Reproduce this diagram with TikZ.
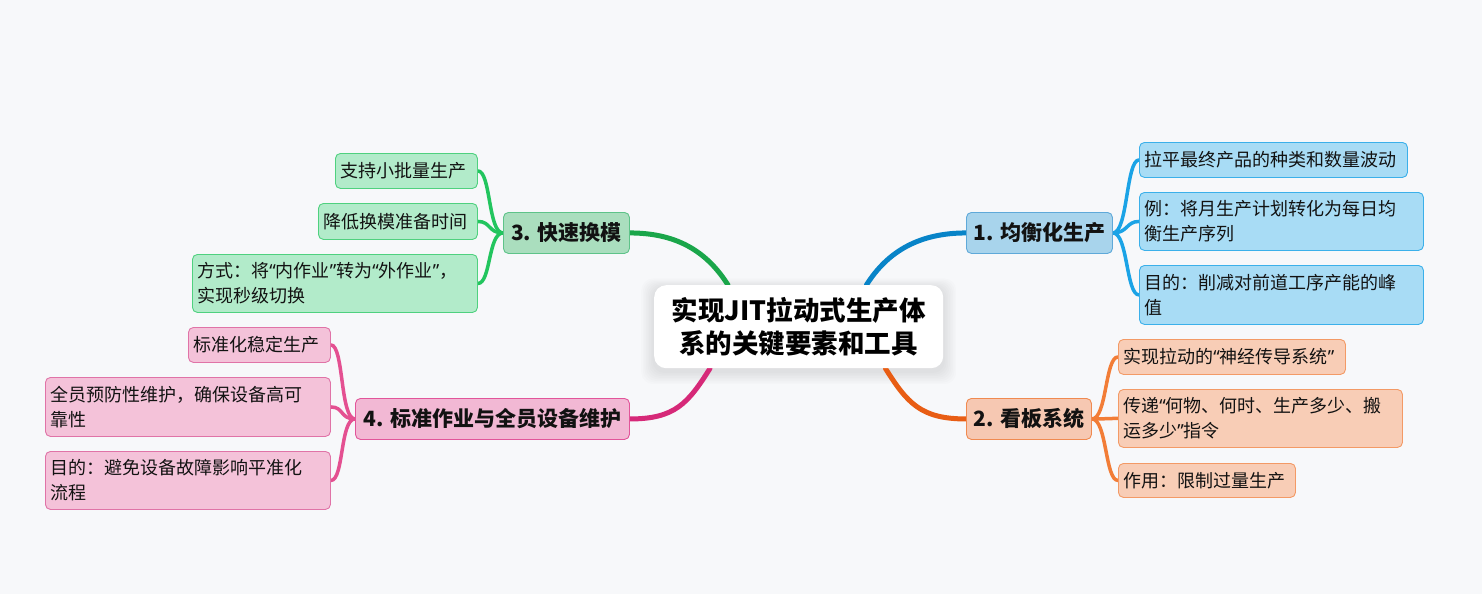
\documentclass[tikz,border=0pt]{standalone}
\usepackage{fontspec}
\setmainfont{Noto Sans CJK SC}
\newfontfamily\qfont{Noto Sans}
\newcommand\qo{{\qfont “}}
\newcommand\qc{{\qfont ”}}
\usetikzlibrary{calc}
\definecolor{bgc}{RGB}{247,248,250}
\definecolor{trB}{RGB}{8,132,200}
\definecolor{lnB}{RGB}{27,163,230}
\definecolor{brBf}{RGB}{168,212,236}
\definecolor{brBd}{RGB}{95,169,217}
\definecolor{lfBf}{RGB}{168,220,245}
\definecolor{lfBd}{RGB}{59,176,234}
\definecolor{trG}{RGB}{26,166,74}
\definecolor{lnG}{RGB}{34,197,94}
\definecolor{brGf}{RGB}{170,222,190}
\definecolor{brGd}{RGB}{94,195,137}
\definecolor{lfGf}{RGB}{178,235,202}
\definecolor{lfGd}{RGB}{79,209,127}
\definecolor{trP}{RGB}{214,41,120}
\definecolor{lnP}{RGB}{228,80,145}
\definecolor{brPf}{RGB}{242,184,212}
\definecolor{brPd}{RGB}{226,85,154}
\definecolor{lfPf}{RGB}{244,194,217}
\definecolor{lfPd}{RGB}{224,115,167}
\definecolor{trO}{RGB}{232,93,20}
\definecolor{lnO}{RGB}{242,125,55}
\definecolor{brOf}{RGB}{246,200,178}
\definecolor{brOd}{RGB}{240,138,80}
\definecolor{lfOf}{RGB}{248,205,182}
\definecolor{lfOd}{RGB}{243,154,102}
\pgfdeclarelayer{bg}
\pgfsetlayers{bg,main}
\tikzset{
  boxbase/.style={rounded corners=5pt, line width=0.9pt, anchor=north west, inner xsep=5pt, inner ysep=0pt, text=black!93},
  branchbox/.style={boxbase, font=\fontsize{21}{26}\selectfont\bfseries, align=center},
  leafbox/.style={boxbase, font=\fontsize{18}{25}\selectfont, align=left},
  trunk/.style={line width=5pt, line cap=round},
  twig/.style={line width=3.5pt, line cap=round},
}
\begin{document}
\begin{tikzpicture}[x=1pt,y=-1pt]
\useasboundingbox (0,0) rectangle (1482,594);
% root
\node[anchor=north west, fill=white, rounded corners=12pt, minimum width=289pt, minimum height=83pt, inner sep=0pt, align=center, font=\fontsize{26.5}{33.5}\selectfont\bfseries] (root) at (654,285) {实现JIT拉动式生产体\\系的关键要素和工具};
% branches
\node[branchbox, fill=brBf, draw=brBd, minimum width=146pt, minimum height=41pt] (b1) at (966,212) {1. 均衡化生产};
\node[branchbox, fill=brOf, draw=brOd, minimum width=125pt, minimum height=41pt] (b2) at (966,398) {2. 看板系统};
\node[branchbox, fill=brGf, draw=brGd, minimum width=126pt, minimum height=41pt] (b3) at (503,212) {3. 快速换模};
\node[branchbox, fill=brPf, draw=brPd, minimum width=274pt, minimum height=41pt] (b4) at (355,398) {4. 标准作业与全员设备维护};
% leaves 1
\node[leafbox, fill=lfBf, draw=lfBd, text width=258pt, minimum height=35pt] (l11) at (1139,142) {拉平最终产品的种类和数量波动};
\node[leafbox, fill=lfBf, draw=lfBd, text width=274pt, minimum height=58pt] (l12) at (1139,192) {例：将月生产计划转化为每日均\\衡生产序列};
\node[leafbox, fill=lfBf, draw=lfBd, text width=274pt, minimum height=59pt] (l13) at (1139,265) {目的：削减对前道工序产能的峰\\值};
% leaves 2
\node[leafbox, fill=lfOf, draw=lfOd, text width=217pt, minimum height=35pt] (l21) at (1118,339) {实现拉动的\qo 神经传导系统\qc};
\node[leafbox, fill=lfOf, draw=lfOd, text width=274pt, minimum height=58pt] (l22) at (1118,389) {传递\qo 何物、何时、生产多少、搬\\运多少\qc 指令};
\node[leafbox, fill=lfOf, draw=lfOd, text width=167pt, minimum height=34pt] (l23) at (1118,463) {作用：限制过量生产};
% leaves 3
\node[leafbox, fill=lfGf, draw=lfGd, text width=132pt, minimum height=35pt] (l31) at (335,153) {支持小批量生产};
\node[leafbox, fill=lfGf, draw=lfGd, text width=149pt, minimum height=36pt] (l32) at (318,203) {降低换模准备时间};
\node[leafbox, fill=lfGf, draw=lfGd, text width=275pt, minimum height=58pt] (l33) at (192,254) {方式：将\qo 内作业\qc 转为\qo 外作业\qc ，\\实现秒级切换};
% leaves 4
\node[leafbox, fill=lfPf, draw=lfPd, text width=132pt, minimum height=35pt] (l41) at (188,327) {标准化稳定生产};
\node[leafbox, fill=lfPf, draw=lfPd, text width=275pt, minimum height=59pt] (l42) at (45,377) {全员预防性维护，确保设备高可\\靠性};
\node[leafbox, fill=lfPf, draw=lfPd, text width=275pt, minimum height=58pt] (l43) at (45,451) {目的：避免设备故障影响平准化\\流程};
\begin{pgfonlayer}{bg}
  \fill[bgc] (0,0) rectangle (1482,594);
  % root shadow
  \foreach \i in {1,...,8}{
    \fill[black, opacity=0.012, rounded corners=12pt]
      ($(root.north west)+(-\i*1.6,-\i*1.2+3)$) rectangle ($(root.south east)+(\i*1.6,\i*1.6+3)$);
  }
  % trunks
  \draw[trunk, trB] ([xshift=-77pt]root.north east) .. controls +(22,-35) and +(-45,0) .. (b1.west);
  \draw[trunk, trG] ([xshift=74pt]root.north west) .. controls +(-22,-35) and +(45,0) .. (b3.east);
  \draw[trunk, trP] ([xshift=56pt]root.south west) .. controls +(-22,35) and +(45,0) .. (b4.east);
  \draw[trunk, trO] ([xshift=-58pt]root.south east) .. controls +(22,35) and +(-45,0) .. (b2.west);
  % twigs
  \foreach \l in {l11,l12,l13}{\draw[twig, lnB] (b1.east) .. controls +(15,0) and +(-13,0) .. (\l.west);}
  \foreach \l in {l21,l22,l23}{\draw[twig, lnO] (b2.east) .. controls +(15,0) and +(-13,0) .. (\l.west);}
  \foreach \l in {l31,l32,l33}{\draw[twig, lnG] (b3.west) .. controls +(-15,0) and +(13,0) .. (\l.east);}
  \foreach \l in {l41,l42,l43}{\draw[twig, lnP] (b4.west) .. controls +(-15,0) and +(13,0) .. (\l.east);}
\end{pgfonlayer}
\end{tikzpicture}
\end{document}
